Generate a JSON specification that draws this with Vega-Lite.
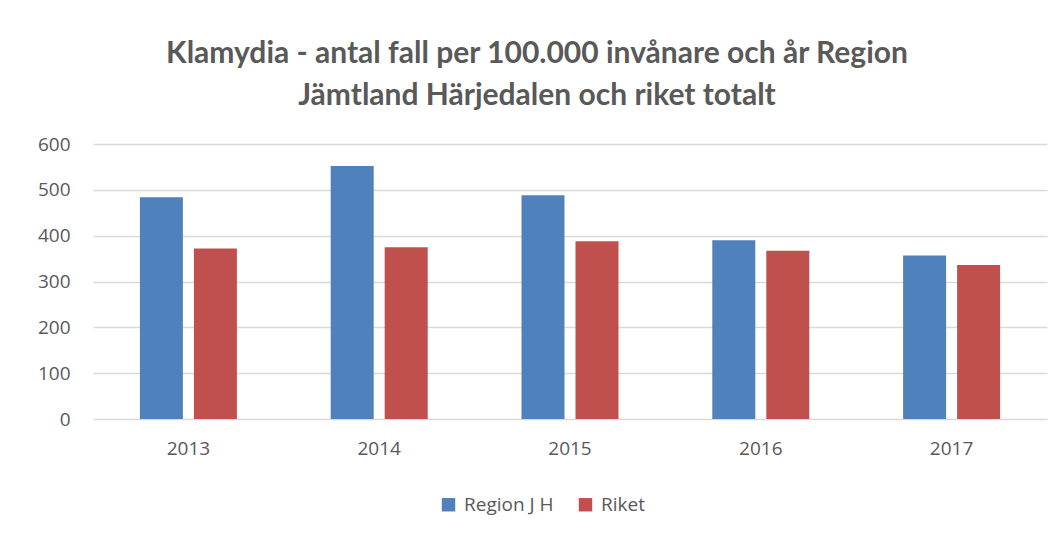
{
  "$schema": "https://vega.github.io/schema/vega-lite/v6.json",
  "width": 954,
  "height": 275,
  "autosize": {"type": "none"},
  "padding": {"left": 93, "top": 144, "right": 7, "bottom": 114},
  "background": "white",
  "title": {
    "text": ["Klamydia - antal fall per 100.000 invånare och år Region", "Jämtland Härjedalen och riket totalt"],
    "font": "Lato",
    "fontSize": 30,
    "fontWeight": "bold",
    "color": "#595959",
    "lineHeight": 42,
    "anchor": "middle",
    "dx": -33,
    "offset": 24
  },
  "data": {
    "values": [
      {"year": "2013", "series": "Region J H", "value": 484},
      {"year": "2013", "series": "Riket", "value": 372},
      {"year": "2014", "series": "Region J H", "value": 552},
      {"year": "2014", "series": "Riket", "value": 375},
      {"year": "2015", "series": "Region J H", "value": 488},
      {"year": "2015", "series": "Riket", "value": 388},
      {"year": "2016", "series": "Region J H", "value": 390},
      {"year": "2016", "series": "Riket", "value": 367},
      {"year": "2017", "series": "Region J H", "value": 357},
      {"year": "2017", "series": "Riket", "value": 336}
    ]
  },
  "mark": {"type": "bar"},
  "encoding": {
    "x": {
      "field": "year",
      "type": "nominal",
      "scale": {"paddingInner": 0.4916, "paddingOuter": 0.2458},
      "axis": {
        "title": null,
        "labelAngle": 0,
        "labelFont": "Open Sans",
        "labelFontSize": 19,
        "labelColor": "#595959",
        "labelPadding": 20,
        "ticks": false,
        "domain": false
      }
    },
    "xOffset": {
      "field": "series",
      "type": "nominal",
      "scale": {"paddingInner": 0.2037, "paddingOuter": 0}
    },
    "y": {
      "field": "value",
      "type": "quantitative",
      "scale": {"domain": [0, 600]},
      "axis": {
        "title": null,
        "values": [0, 100, 200, 300, 400, 500, 600],
        "labelFont": "Open Sans",
        "labelFontSize": 19,
        "labelColor": "#595959",
        "labelPadding": 23,
        "ticks": false,
        "domain": false,
        "grid": true,
        "gridColor": "#d9d9d9",
        "gridWidth": 1.5
      }
    },
    "color": {
      "field": "series",
      "type": "nominal",
      "scale": {"domain": ["Region J H", "Riket"], "range": ["#4f81bd", "#c0504d"]},
      "legend": {
        "title": null,
        "orient": "none",
        "legendX": 346,
        "legendY": 351,
        "direction": "horizontal",
        "symbolType": "square",
        "symbolSize": 180,
        "symbolStrokeWidth": 0,
        "labelFont": "Open Sans",
        "labelFontSize": 19,
        "labelColor": "#595959",
        "labelOffset": 6,
        "columnPadding": 22
      }
    }
  },
  "config": {"view": {"stroke": null}}
}
